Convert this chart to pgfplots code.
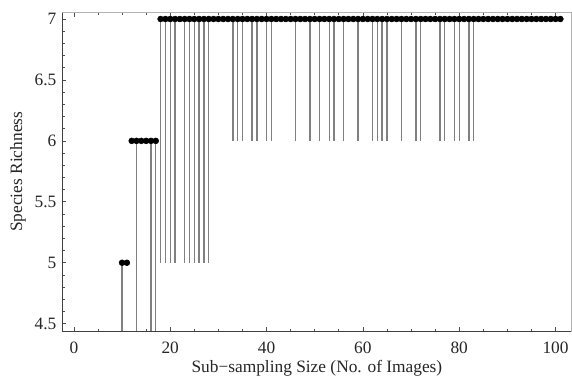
\documentclass[border=0pt]{standalone}
\usepackage{fontspec}
\setmainfont{Liberation Serif}
\usepackage{pgfplots}
\usepackage{pgfplotstable}
\pgfplotsset{compat=1.18}

% vertical segments: x, top value, length down
\pgfplotstableread{
x y e
10 5 1.5
13 6 2.5
16 6 2.5
17 6 2.5
18 7 2
19 7 2
20 7 2
21 7 2
23 7 2
24 7 2
25 7 2
26 7 2
27 7 2
28 7 2
33 7 1
34 7 1
35 7 1
37 7 1
38 7 1
40 7 1
41 7 1
46 7 1
49 7 1
51 7 1
53 7 1
54 7 1
56 7 1
59 7 1
62 7 1
63 7 1
64 7 1
65 7 1
68 7 1
71 7 1
72 7 1
76 7 1
77 7 1
79 7 1
80 7 1
82 7 1
83 7 1
}\segs

\pgfplotstableread{
x y
10 5
11 5
12 6
13 6
14 6
15 6
16 6
17 6
18 7
19 7
20 7
21 7
22 7
23 7
24 7
25 7
26 7
27 7
28 7
29 7
30 7
31 7
32 7
33 7
34 7
35 7
36 7
37 7
38 7
39 7
40 7
41 7
42 7
43 7
44 7
45 7
46 7
47 7
48 7
49 7
50 7
51 7
52 7
53 7
54 7
55 7
56 7
57 7
58 7
59 7
60 7
61 7
62 7
63 7
64 7
65 7
66 7
67 7
68 7
69 7
70 7
71 7
72 7
73 7
74 7
75 7
76 7
77 7
78 7
79 7
80 7
81 7
82 7
83 7
84 7
85 7
86 7
87 7
88 7
89 7
90 7
91 7
92 7
93 7
94 7
95 7
96 7
97 7
98 7
99 7
100 7
101 7
}\dots

\begin{document}
\begin{tikzpicture}
\begin{axis}[
  scale only axis,
  width=381.5pt, height=238.6pt,
  xmin=-2.4, xmax=103.3,
  ymin=4.44, ymax=7.053,
  axis line style={gray!60, line width=0.6pt},
  xtick={0,20,40,60,80,100},
  minor xtick={5,10,15,25,30,35,45,50,55,65,70,75,85,90,95},
  ytick={4.5,5,5.5,6,6.5,7},
  minor y tick num=4,
  xtick pos=both, ytick pos=left,
  tick align=inside,
  major tick length=3pt, minor tick length=1.8pt,
  every tick/.style={black!70, line width=0.5pt},
  /pgf/number format/assume math mode=true,
  tick label style={font=\fontsize{13}{15}\selectfont, text=black!85},
  xticklabel style={yshift=-4.5pt},
  yticklabel style={xshift=-1pt},
  xlabel={Sub−sampling Size (No. of Images)},
  ylabel={Species Richness},
  label style={font=\fontsize{13}{15}\selectfont, text=black!85},
  xlabel style={at={(axis description cs:0.5,0)}, anchor=center, yshift=-28pt},
  ylabel style={at={(axis description cs:-0.087,0.5)}, anchor=center},
  clip=true,
]
\addplot[draw=none, mark=none,
  error bars/.cd, y dir=minus, y explicit,
  error mark=none,
  error bar style={black!50, line width=1pt}]
  table[x=x, y=y, y error=e] {\segs};
\addplot[only marks, mark=*, mark size=2.2pt, black] table[x=x,y=y] {\dots};
\coordinate (fsw) at (rel axis cs:0,0);
\coordinate (fne) at (rel axis cs:1,1);
\coordinate (fnw) at (rel axis cs:0,1);
\coordinate (fse) at (rel axis cs:1,0);
\end{axis}
\draw[black!75, line width=0.7pt] (fnw) -- (fsw) -- (fse);
\pgfresetboundingbox
\path ([shift={(-46.7pt,-35.5pt)}]fsw) rectangle ([shift={(0.4pt,9.4pt)}]fne);
\end{tikzpicture}
\end{document}
